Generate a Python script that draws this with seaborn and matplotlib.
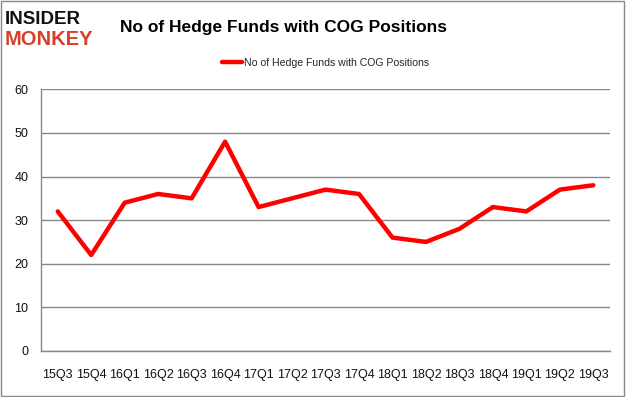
import numpy as np
import pandas as pd
import matplotlib
matplotlib.use("Agg")
import matplotlib.pyplot as plt
import seaborn as sns

# data
quarters = ["15Q3", "15Q4", "16Q1", "16Q2", "16Q3", "16Q4", "17Q1", "17Q2", "17Q3",
            "17Q4", "18Q1", "18Q2", "18Q3", "18Q4", "19Q1", "19Q2", "19Q3"]
funds = [32, 22, 34, 36, 35, 48, 33, 35, 37, 36, 26, 25, 28, 33, 32, 37, 38]
series_name = "No of Hedge Funds with COG Positions"

df = pd.DataFrame({"quarter": quarters, "funds": funds})
df["pos"] = np.arange(len(df))

sns.set_style("white")
plt.rcParams["font.family"] = ["Liberation Sans", "DejaVu Sans"]

fig = plt.figure(figsize=(6.26, 3.97), dpi=100)
ax = fig.add_axes([0.0655, 0.116, 0.909, 0.659])

sns.lineplot(data=df, x="pos", y="funds", ax=ax, color="#ff0000", linewidth=3.2,
             label=series_name, legend=False)

ax.set_xlim(-0.5, len(quarters) - 0.5)
ax.set_ylim(0, 60)
ax.set_yticks(range(0, 61, 10))
ax.set_xticks(df["pos"])
ax.set_xticklabels(quarters)
ax.set_xticks(np.arange(-0.5, len(quarters), 1), minor=True)
ax.tick_params(axis="x", which="major", length=0, pad=13, labelsize=9, colors="#111111")
ax.tick_params(axis="x", which="minor", length=4, color="#888888", width=1)
ax.tick_params(axis="y", length=4, colors="#888888", labelcolor="#111111",
               labelsize=9, pad=5)
ax.grid(axis="y", color="#888888", linewidth=1)
ax.set_axisbelow(True)
for s in ["top", "right"]:
    ax.spines[s].set_visible(False)
for s in ["left", "bottom"]:
    ax.spines[s].set_color("#888888")
    ax.spines[s].set_linewidth(1)
ax.set_xlabel("")
ax.set_ylabel("")

# legend above plot
ax.legend(loc="center", bbox_to_anchor=(0.5, 1.1), frameon=False, fontsize=7.6,
          handlelength=1.9, handletextpad=0.2)

# title and logo
fig.text(0.192, 0.93, "No of Hedge Funds with COG Positions", fontsize=12.5,
         fontweight="bold", va="center", ha="left", color="#000000")
fig.text(0.008, 0.952, "INSIDER", fontsize=13.5, fontweight="bold", va="center",
         ha="left", color="#111111")
fig.text(0.008, 0.9, "MONKEY", fontsize=14.5, fontweight="bold", va="center",
         ha="left", color="#d6402b")

# outer border
fig.patches.append(plt.Rectangle((0.001, 0.002), 0.996, 0.995, transform=fig.transFigure,
                                 fill=False, edgecolor="#888888", linewidth=1))

fig.savefig("out.png", dpi=100)
